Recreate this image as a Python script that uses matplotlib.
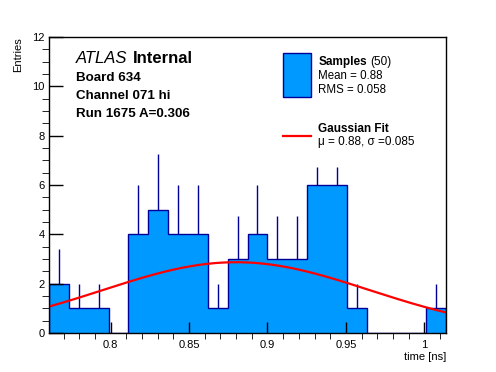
import numpy as np
import matplotlib
matplotlib.use("Agg")
import matplotlib.pyplot as plt
from matplotlib.patches import Rectangle
from matplotlib.lines import Line2D

plt.rcParams["font.family"] = ["Liberation Sans", "DejaVu Sans"]

# Histograma: 20 bins entre x_min y x_max
x_min, x_max = 0.7607, 1.0138
n_bins = 20
counts = [2, 1, 1, 0, 4, 5, 4, 4, 1, 3, 4, 3, 3, 6, 6, 1, 0, 0, 0, 1]
# longitud de la barra de error (solo hacia arriba)
errors = [1.41, 1.0, 1.0, 0.0, 2.0, 2.24, 2.0, 2.0, 1.0, 1.73,
          2.0, 1.73, 1.73, 0.75, 0.75, 1.0, 0.0, 0.0, 0.0, 1.0]

# Parámetros del ajuste gaussiano
fit_amp, fit_mu, fit_sigma = 2.87, 0.88, 0.085

board_lines = ["Board 634", "Channel 071 hi", "Run 1675 A=0.306"]
x_ticks = [0.8, 0.85, 0.9, 0.95, 1.0]
x_ticklabels = ["0.8", "0.85", "0.9", "0.95", "1"]

fill_color = "#0099ff"
edge_color = "#000099"

edges = np.linspace(x_min, x_max, n_bins + 1)
centers = 0.5 * (edges[:-1] + edges[1:])
counts = np.array(counts, dtype=float)
errors = np.array(errors)

fig = plt.figure(figsize=(4.96, 3.72), dpi=100)
ax = fig.add_axes([49 / 496, 39 / 372, 397 / 496, 296 / 372])

ax.stairs(counts, edges, fill=True, facecolor=fill_color, edgecolor="none")
ax.stairs(counts, edges, baseline=0, color=edge_color, linewidth=1)
m = counts > 0
ax.vlines(centers[m], counts[m], counts[m] + errors[m], color=edge_color, linewidth=1)

xf = np.linspace(x_min, x_max, 200)
yf = fit_amp * np.exp(-0.5 * ((xf - fit_mu) / fit_sigma) ** 2)
ax.plot(xf, yf, color="#ff0000", linewidth=1.6)

ax.set_xlim(x_min, x_max)
ax.set_ylim(0, 12)
ax.set_xticks(x_ticks)
ax.set_xticklabels(x_ticklabels)
ax.set_xticks(np.arange(0.77, 1.011, 0.01), minor=True)
ax.set_yticks(range(0, 13, 2))
ax.set_yticks(np.arange(0, 12.01, 0.5), minor=True)
ax.tick_params(direction="in", labelsize=8, width=1, pad=3)
ax.tick_params(axis="x", which="major", length=8, pad=5)
ax.tick_params(axis="x", which="minor", length=4)
ax.tick_params(axis="y", which="major", length=10)
ax.tick_params(axis="y", which="minor", length=5)
for s in ax.spines.values():
    s.set_linewidth(1)
    s.set_zorder(5)

fig.text(18 / 496, 1 - 37 / 372, "Entries", rotation=90, ha="center", va="top", fontsize=8)
fig.text(446 / 496, 1 - 357 / 372, "time [ns]", ha="right", va="center", fontsize=8)

# Texto ATLAS
t = ax.text(0.068, 0.929, "ATLAS", transform=ax.transAxes, style="italic",
            fontsize=12, va="center")
ax.annotate("Internal", xy=(1, 0.5), xycoords=t, xytext=(4, 0),
            textcoords="offset points", fontsize=12, fontweight="bold", va="center")
for i, txt in enumerate(board_lines):
    ax.text(0.068, 0.861 - i * 0.061, txt, transform=ax.transAxes,
            fontsize=9.6, fontweight="bold", va="center")

# Leyenda dibujada a mano
ax.add_patch(Rectangle((0.589, 0.798), 0.071, 0.148, transform=ax.transAxes,
                       facecolor=fill_color, edgecolor=edge_color, linewidth=1))
s = ax.text(0.678, 0.916, "Samples", transform=ax.transAxes, fontsize=8.5,
            fontweight="bold", va="center")
ax.annotate("(50)", xy=(1, 0.5), xycoords=s, xytext=(2.5, 0),
            textcoords="offset points", fontsize=8.5, va="center")
ax.text(0.678, 0.868, "Mean = 0.88", transform=ax.transAxes, fontsize=8.3, va="center")
ax.text(0.678, 0.821, "RMS = 0.058", transform=ax.transAxes, fontsize=8.3, va="center")

ax.add_line(Line2D([0.589, 0.660], [0.667, 0.667], transform=ax.transAxes,
                   color="#ff0000", linewidth=1.6))
ax.text(0.678, 0.689, "Gaussian Fit", transform=ax.transAxes, fontsize=8.5,
        fontweight="bold", va="center")
ax.text(0.678, 0.645, "\u03bc = 0.88, \u03c3 =0.085", transform=ax.transAxes,
        fontsize=8.5, va="center")

fig.savefig("out.png", dpi=100)
